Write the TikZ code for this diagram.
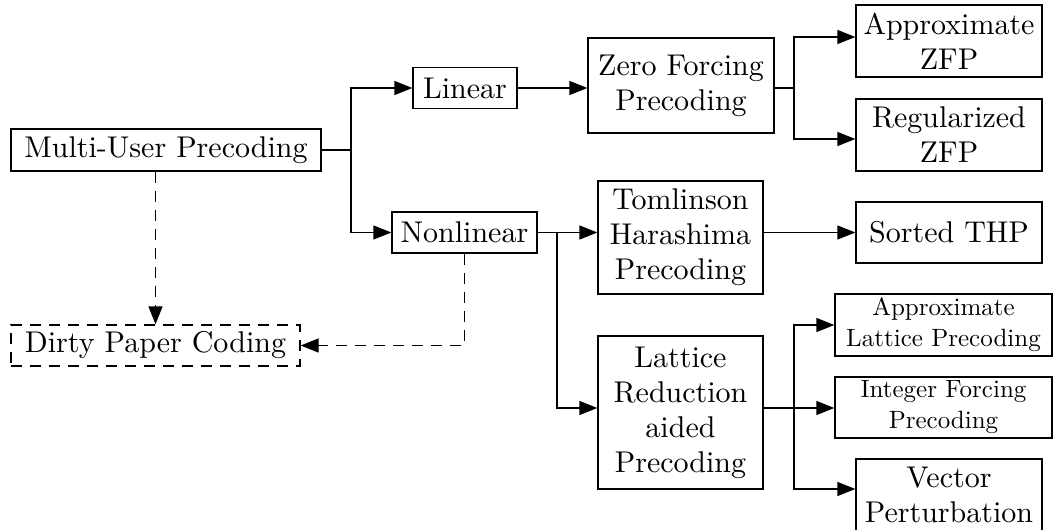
\documentclass[tikz,border=0pt]{standalone}
\usepackage{fontspec}
\setmainfont{lmroman10-regular}[Extension=.otf]
\usetikzlibrary{arrows.meta}
\begin{document}
\begin{tikzpicture}[x=1pt,y=-1pt,
  box/.style={draw, line width=1.3pt, inner sep=0pt, align=center, font=\fontsize{30}{35}\selectfont},
  sbox/.style={box, font=\fontsize{25}{31}\selectfont},
  arr/.style={-{Triangle[length=18pt,width=14pt]}, line width=1.3pt},
  con/.style={line width=1.3pt},
  dsh/.style={dash pattern=on 11pt off 8pt}]
\clip (0,0) rectangle (1053,530);
\useasboundingbox (0,0) rectangle (1053,530);
% nodes
\node[box, minimum width=310pt, minimum height=42pt] (mup) at (166,150) {Multi-User Precoding};
\node[box, dsh, minimum width=289pt, minimum height=41pt] (dpc) at (155.5,345.5) {Dirty Paper Coding};
\node[box, minimum width=104pt, minimum height=41pt] (lin) at (465,88) {Linear};
\node[box, minimum width=145pt, minimum height=41pt] (nonlin) at (464.5,232.5) {Nonlinear};
\node[box, minimum width=186pt, minimum height=95pt] (zf) at (681,85.5) {Zero Forcing\\Precoding};
\node[box, minimum width=165pt, minimum height=113pt] (th) at (680.5,237.5) {Tomlinson\\Harashima\\Precoding};
\node[box, minimum width=165pt, minimum height=153pt] (lr) at (680.5,412.5) {Lattice\\Reduction\\aided\\Precoding};
\node[box, minimum width=186pt, minimum height=72pt] (azfp) at (949,41) {Approximate\\ZFP};
\node[box, minimum width=186pt, minimum height=72pt] (rzfp) at (949,135) {Regularized\\ZFP};
\node[box, minimum width=186pt, minimum height=61pt] (sthp) at (949,232.5) {Sorted THP};
\node[sbox, minimum width=217pt, minimum height=62pt] (alp) at (943.5,325) {Approximate\\Lattice Precoding};
\node[sbox, minimum width=217pt, minimum height=61pt] (ifp) at (943.5,407.5) {Integer Forcing\\Precoding};
\node[box, minimum width=186pt, minimum height=72pt] (vp) at (949,495) {Vector\\Perturbation};
% helper coordinates
\coordinate (b0) at (351,150);
\coordinate (b1) at (794,88);
\coordinate (y1t) at (0,37);
\coordinate (y1b) at (0,139);
\coordinate (b2) at (557,232.5);
\coordinate (b3) at (794,408);
\coordinate (yvp) at (0,489);
% connectors
\draw[con] (mup.east) -- (b0);
\draw[arr] (b0) |- (lin.west);
\draw[arr] (b0) |- (nonlin.west);
\draw[arr] (lin.east) -- (zf.west |- lin.east);
\draw[con] (zf.east |- b1) -- (b1);
\draw[arr] (b1) |- (azfp.west |- y1t);
\draw[arr] (b1) |- (rzfp.west |- y1b);
\draw[arr] (nonlin.east) -- (th.west |- nonlin.east);
\draw[arr] (b2) |- (lr.west |- b3);
\draw[arr] (th.east |- sthp.west) -- (sthp.west);
\draw[arr] (lr.east |- b3) -- (ifp.west |- b3);
\draw[arr] (b3) |- (alp.west);
\draw[arr] (b3) |- (vp.west |- yvp);
\draw[arr, dsh] (dpc.north |- mup.south) -- (dpc.north);
\draw[arr, dsh] (nonlin.south) |- (dpc.east);
\end{tikzpicture}
\end{document}
